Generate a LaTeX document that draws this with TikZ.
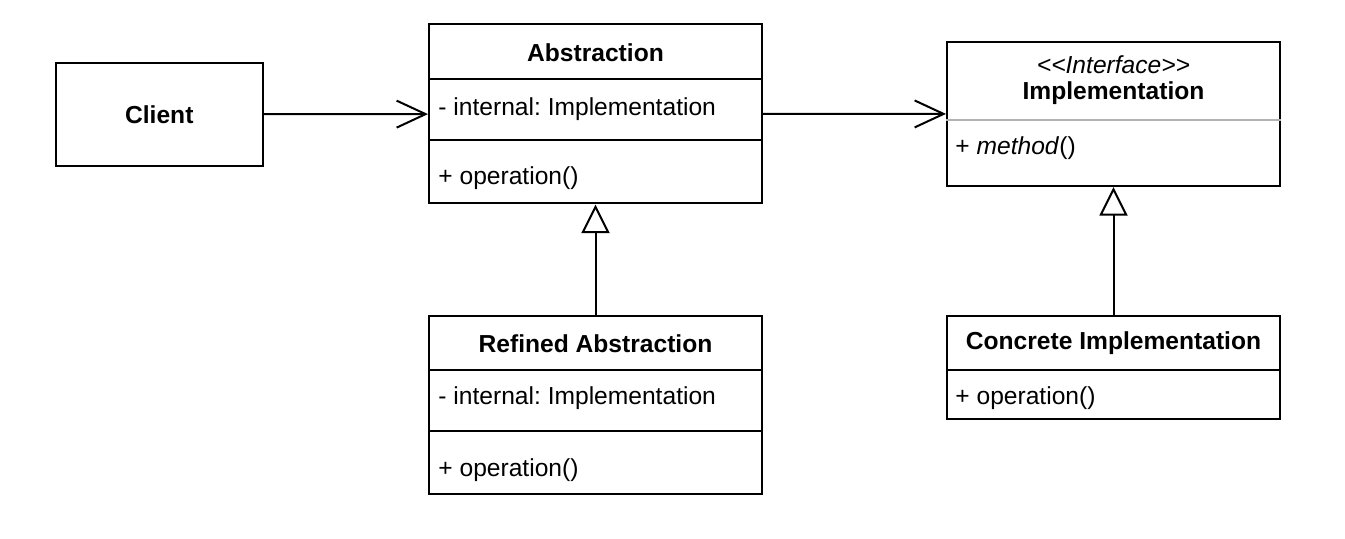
\documentclass[tikz,border=0pt]{standalone}
\usepackage{fontspec}
\setmainfont{Liberation Sans}
\usetikzlibrary{arrows.meta}
\frenchspacing
\tikzset{
  umlbox/.style={draw=black, line width=1pt, fill=white, rectangle, inner sep=0pt},
  txt/.style={inner sep=0pt, font=\fontsize{12.3}{14}\selectfont},
  ttl/.style={inner sep=0pt, font=\fontsize{12.3}{14}\selectfont\bfseries},
  divider/.style={line width=1pt, draw=black},
  graydivider/.style={line width=1pt, draw=black!30},
  assoc/.style={line width=1pt, -{Straight Barb[length=14.5pt,width=13.5pt,line width=1pt]}},
  gen/.style={line width=1pt, -{Triangle[open,length=14.3pt,width=14pt,line width=1pt,fill=white]}}
}
\begin{document}
\begin{tikzpicture}[x=0.5pt,y=-0.5pt]
\useasboundingbox[fill=white] (0,0) rectangle (1345,539);

% boxes
\node[umlbox, minimum width=103.7pt, minimum height=51.7pt] (client) at (159.3,114.3) {};
\node[umlbox, minimum width=166.5pt, minimum height=89.5pt] (abs) at (595.5,114) {};
\node[umlbox, minimum width=166.5pt, minimum height=72.2pt] (impl) at (1113.5,113.9) {};
\node[umlbox, minimum width=166.5pt, minimum height=89pt] (ref) at (595.5,405) {};
\node[umlbox, minimum width=166.5pt, minimum height=51.5pt] (conc) at (1113.5,367.5) {};

% dividers
\draw[divider] (abs.west |- 0,79) -- (abs.east |- 0,79);
\draw[divider] (abs.west |- 0,140.5) -- (abs.east |- 0,140.5);
\draw[graydivider] (impl.west |- 0,120) -- (impl.east |- 0,120);
\draw[divider] (ref.west |- 0,370) -- (ref.east |- 0,370);
\draw[divider] (ref.west |- 0,431.5) -- (ref.east |- 0,431.5);
\draw[divider] (conc.west |- 0,370) -- (conc.east |- 0,370);

% texts
\node[ttl] (clientT) at (client.center) {Client};

\node[ttl] (absT) at (595.5,52.5) {Abstraction};
\node[txt, anchor=west] (absA) at (438,109) {- internal: Implementation};
\node[txt, anchor=west] (absO) at (438,178) {+ operation()};

\node[txt, font=\fontsize{12.3}{14}\selectfont\itshape] (implS) at (1113.5,65) {<\kern0pt<Interface>\kern0pt>};
\node[ttl] (implT) at (1113.5,93) {Implementation};
\node[txt, anchor=west] (implM) at (955,148) {+ \textit{method}()};

\node[ttl] (refT) at (595.5,344) {Refined Abstraction};
\node[txt, anchor=west] (refA) at (438,398) {- internal: Implementation};
\node[txt, anchor=west] (refO) at (438,470) {+ operation()};

\node[ttl] (concT) at (1113.5,343) {Concrete Implementation};
\node[txt, anchor=west] (concO) at (955,398) {+ operation()};

% connectors
\draw[assoc] (client) -- (abs);
\draw[assoc] (abs) -- (impl);
\draw[gen] (ref) -- (abs);
\draw[gen] (conc) -- (impl);
\end{tikzpicture}
\end{document}
